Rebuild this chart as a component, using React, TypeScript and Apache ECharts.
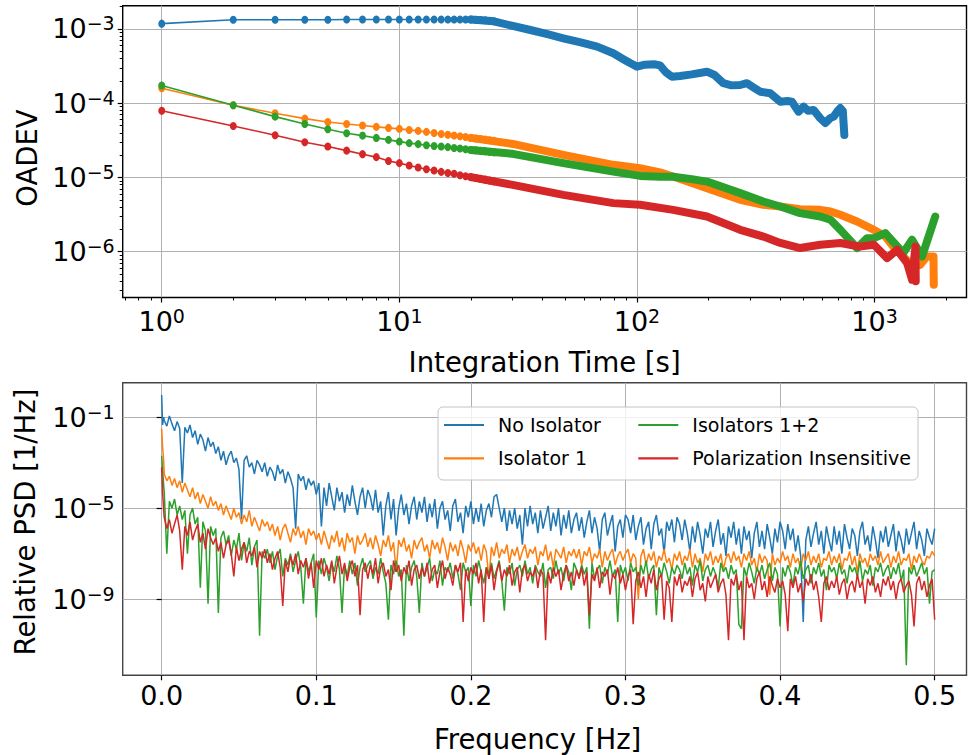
import React, { useEffect, useRef } from 'react';
import * as echarts from 'echarts';

const FONT = 'DejaVu Sans';
const COLORS = ['#1f77b4', '#ff7f0e', '#2ca02c', '#d62728'];
const NAMES = ['No Isolator', 'Isolator 1', 'Isolators 1+2', 'Polarization Insensitive'];

// ---------- Top panel: overlapping Allan deviation ----------
const TAU_SPARSE = [1, 2, 3, 4, 5, 6, 7, 8, 9, 10, 11, 12, 13, 14, 15, 16, 17, 18, 19, 20, 21, 22, 23, 24, 25];
const BLUE_SPARSE = [1.18e-3, 1.33e-3, 1.33e-3, 1.33e-3, 1.33e-3, 1.34e-3, 1.34e-3, 1.34e-3, 1.34e-3, 1.34e-3, 1.34e-3, 1.34e-3, 1.34e-3, 1.34e-3, 1.34e-3, 1.34e-3, 1.34e-3, 1.34e-3, 1.34e-3, 1.34e-3, 1.33e-3, 1.32e-3, 1.31e-3, 1.29e-3, 1.27e-3];
const ORANGE_SPARSE = [1.59e-4, 9.4e-5, 7.33e-5, 6.21e-5, 5.6e-5, 5.26e-5, 5.0e-5, 4.8e-5, 4.65e-5, 4.51e-5, 4.37e-5, 4.24e-5, 4.11e-5, 3.98e-5, 3.86e-5, 3.77e-5, 3.67e-5, 3.59e-5, 3.5e-5, 3.41e-5, 3.35e-5, 3.29e-5, 3.23e-5, 3.17e-5, 3.11e-5];
const GREEN_SPARSE = [1.73e-4, 9.4e-5, 6.6e-5, 5.26e-5, 4.47e-5, 3.94e-5, 3.66e-5, 3.41e-5, 3.21e-5, 3.04e-5, 2.9e-5, 2.81e-5, 2.72e-5, 2.66e-5, 2.61e-5, 2.56e-5, 2.5e-5, 2.45e-5, 2.4e-5, 2.35e-5, 2.32e-5, 2.28e-5, 2.25e-5, 2.21e-5, 2.18e-5];
const RED_SPARSE = [7.94e-5, 4.94e-5, 3.71e-5, 2.98e-5, 2.61e-5, 2.3e-5, 2.06e-5, 1.88e-5, 1.67e-5, 1.56e-5, 1.45e-5, 1.36e-5, 1.29e-5, 1.24e-5, 1.19e-5, 1.15e-5, 1.12e-5, 1.07e-5, 1.04e-5, 1.01e-5, 9.82e-6, 9.58e-6, 9.34e-6, 9.12e-6, 8.89e-6];

const BLUE_DENSE = [
  [20, 1.34e-3], [25, 1.27e-3], [30, 1.1e-3], [35.6, 9.7e-4], [42, 8.5e-4], [49, 7.5e-4], [58, 6.6e-4], [68, 5.78e-4],
  [79.5, 4.71e-4], [88, 3.89e-4], [94, 3.45e-4], [100, 3.11e-4], [108, 3.31e-4], [118, 3.35e-4], [125, 3.24e-4],
  [132, 2.63e-4], [140, 2.28e-4], [152, 2.33e-4], [170, 2.45e-4], [197, 2.66e-4], [212, 2.4e-4], [231, 1.86e-4],
  [250, 1.74e-4], [272, 1.76e-4], [290, 1.86e-4], [310, 1.62e-4], [330, 1.43e-4], [364, 1.36e-4], [401, 1.05e-4],
  [430, 1.07e-4], [449, 1.05e-4], [479, 7.7e-5], [503, 9.0e-5], [525, 7.9e-5], [554, 8.1e-5], [590, 6.3e-5],
  [621, 5.4e-5], [650, 6.3e-5], [673, 6.6e-5], [700, 7.9e-5], [718, 8.6e-5], [735, 7.9e-5], [746, 3.74e-5],
];
const ORANGE_DENSE = [
  [20, 3.41e-5], [30, 2.83e-5], [49, 2.01e-5], [79.5, 1.48e-5], [103, 1.33e-5], [125, 1.17e-5], [142, 1.03e-5],
  [197, 7.18e-6], [272, 5.0e-6], [340, 4.28e-6], [401, 4.06e-6], [486, 3.74e-6], [591, 3.66e-6], [652, 3.48e-6],
  [718, 3.14e-6], [844, 2.55e-6], [994, 1.97e-6], [1110, 1.6e-6], [1200, 1.17e-6], [1320, 8.6e-7], [1410, 7.0e-7],
  [1550, 6.6e-7], [1660, 8.6e-7], [1770, 8.6e-7], [1775, 3.6e-7],
];
const GREEN_DENSE = [
  [20, 2.35e-5], [30, 2.08e-5], [49, 1.56e-5], [79.5, 1.2e-5], [103, 1.05e-5], [125, 1.02e-5], [142, 1.02e-5],
  [170, 9.5e-6], [197, 8.8e-6], [272, 6.15e-6], [340, 4.74e-6], [401, 4.06e-6], [486, 3.31e-6], [591, 2.98e-6],
  [652, 2.69e-6], [718, 1.97e-6], [844, 1.12e-6], [930, 1.52e-6], [994, 1.52e-6], [1110, 1.78e-6], [1320, 9.6e-7],
  [1438, 1.45e-6], [1584, 8.6e-7], [1800, 2.98e-6],
];
const RED_DENSE = [
  [20, 1.01e-5], [30, 7.94e-6], [49, 5.83e-6], [79.5, 4.51e-6], [103, 4.28e-6], [142, 3.66e-6], [197, 2.98e-6],
  [272, 1.97e-6], [340, 1.6e-6], [401, 1.31e-6], [486, 1.12e-6], [591, 1.24e-6], [718, 1.31e-6], [865, 1.17e-6],
  [994, 1.24e-6], [1129, 8.2e-7], [1244, 1.06e-6], [1371, 7.0e-7], [1438, 4.19e-7], [1486, 1.17e-6], [1490, 4.0e-7],
];

const TOP_X_TICKS = [1, 10, 100, 1000];
const TOP_Y_TICKS = [1e-6, 1e-5, 1e-4, 1e-3];

// ---------- Bottom panel: relative PSD (values are log10 of PSD) ----------
const PSD_F_MAX = 0.5;
const PSD_HEAD_FREQ = [0, 0.0006, 0.0013];
const BLUE_PSD_HEAD = [-0.03, -1.35, -1.0];
const BLUE_PSD_BODY = [
  -1.15, -1.4, -0.95, -1.3, -1.6, -1.2, -1.5, -3.9, -1.45, -1.7, -1.35, -1.9, -1.6, -2.2, -1.75, -2.0, -2.5, -1.9, -2.3, -2.1,
  -2.6, -2.3, -2.9, -2.5, -3.1, -2.7, -2.5, -3.0, -2.8, -3.3, -5.5, -2.9, -2.7, -3.2, -3.0, -3.5, -2.9, -3.1, -3.4, -3.0,
  -3.6, -3.2, -3.4, -3.8, -3.1, -3.5, -3.3, -3.9, -3.4, -3.7, -4.1, -5.9, -3.5, -3.8, -3.6, -4.2, -3.7, -4.0, -3.8, -4.4,
  -3.9, -5.8, -4.1, -4.9, -3.9, -4.5, -5.1, -4.1, -4.7, -4.3, -5.2, -4.4, -4.9, -4.0, -4.7, -5.3, -4.5, -4.1, -5.0, -4.2,
  -4.5, -5.1, -4.2, -5.2, -4.7, -6.2, -4.9, -4.3, -5.5, -4.6, -6.2, -5.0, -4.4, -5.3, -4.8, -5.7, -4.9, -4.5, -5.5, -4.7,
  -5.2, -4.5, -5.6, -4.8, -5.4, -4.6, -5.9, -5.0, -4.7, -5.5, -5.1, -6.0, -4.9, -4.6, -5.6, -5.2, -6.1, -4.9, -5.4, -4.7,
  -5.7, -5.0, -5.6, -4.8, -5.8, -5.1, -4.8, -5.4, -4.5, -4.4, -5.0, -5.6, -5.0, -6.0, -5.1, -5.7, -5.0, -5.9, -5.3, -6.6,
  -5.0, -5.8, -4.9, -5.7, -5.2, -6.1, -5.1, -5.9, -5.4, -4.9, -6.0, -5.2, -5.8, -5.0, -6.2, -5.3, -5.9, -5.1, -6.1, -5.5,
  -5.2, -6.0, -5.4, -6.3, -5.6, -5.1, -6.1, -5.4, -5.9, -6.9, -5.5, -5.2, -6.2, -5.7, -5.3, -6.9, -5.8, -5.5, -6.3, -5.3,
  -5.5, -6.1, -5.3, -6.4, -5.8, -5.4, -6.6, -5.9, -5.6, -6.8, -5.7, -5.3, -6.2, -5.9, -7.0, -5.6, -6.0, -5.5, -6.5, -5.4,
  -5.7, -6.4, -5.5, -6.1, -6.9, -5.8, -6.5, -5.6, -6.2, -7.0, -5.9, -6.3, -5.6, -6.7, -6.0, -5.5, -6.6, -6.1, -7.1, -5.8,
  -6.3, -5.6, -6.6, -5.9, -7.0, -5.8, -6.4, -6.0, -7.2, -6.1, -5.6, -6.7, -6.0, -6.8, -5.7, -6.3, -7.0, -5.9, -6.5, -5.6,
  -6.0, -6.8, -5.7, -6.4, -5.9, -6.9, -6.2, -7.1, -10.0, -6.4, -5.8, -6.7, -6.1, -5.6, -6.6, -6.0, -7.0, -5.8, -6.4, -6.9,
  -5.8, -6.6, -6.0, -7.0, -5.7, -6.3, -6.8, -5.9, -6.2, -7.1, -6.0, -5.6, -6.6, -6.2, -6.9, -5.8, -6.4, -7.2, -6.0, -6.5,
  -5.8, -6.7, -6.2, -5.7, -6.9, -6.0, -6.4, -7.0, -5.9, -6.6, -6.1, -5.6, -6.8, -6.0, -6.4, -7.1, -5.9, -6.3, -6.6, -5.9,
];
const ORANGE_PSD_HEAD = [-1.5, -2.3, -2.9];
const ORANGE_PSD_BODY = [
  -3.5, -3.8, -3.6, -4.0, -3.7, -4.1, -3.8, -4.3, -3.9, -4.2, -4.5, -4.1, -4.6, -4.3, -4.8, -4.4, -4.7, -5.0, -4.5, -4.9,
  -4.7, -5.1, -4.8, -5.3, -4.9, -5.2, -5.5, -5.0, -5.4, -5.2, -5.7, -5.3, -5.6, -5.1, -5.8, -5.4, -5.7, -6.0, -5.5, -5.8,
  -5.6, -6.0, -5.7, -6.2, -5.8, -6.4, -5.9, -5.7, -6.1, -6.5, -5.9, -6.2, -5.8, -6.3, -6.0, -6.6, -5.9, -6.2, -6.0, -6.4,
  -6.1, -6.6, -6.0, -6.4, -6.8, -6.2, -6.5, -6.0, -6.7, -6.3, -6.9, -6.1, -6.5, -6.3, -7.0, -6.2, -6.6, -6.4, -6.1, -6.7,
  -6.3, -6.8, -6.2, -6.6, -7.1, -6.4, -6.7, -6.2, -6.9, -6.5, -7.8, -6.4, -6.7, -6.3, -6.9, -6.6, -7.2, -6.4, -6.8, -6.5,
  -6.3, -6.9, -6.6, -7.2, -6.4, -6.8, -6.5, -7.0, -6.3, -6.7, -7.3, -6.5, -6.9, -6.6, -7.1, -6.4, -6.8, -7.4, -6.6, -6.9,
  -6.5, -7.0, -6.7, -7.3, -6.6, -6.9, -8.1, -6.7, -7.1, -6.5, -7.2, -6.8, -7.0, -6.6, -7.4, -6.8, -7.1, -6.7, -7.3, -6.9,
  -6.6, -7.2, -6.8, -7.0, -6.7, -7.5, -6.9, -7.1, -6.6, -7.3, -6.9, -7.6, -6.8, -7.0, -7.2, -6.7, -7.4, -6.9, -7.1, -6.8,
  -7.2, -6.8, -7.5, -6.9, -7.1, -6.7, -7.4, -7.0, -7.2, -6.8, -7.6, -6.9, -7.3, -7.0, -6.8, -7.5, -7.1, -6.9, -7.3, -7.0,
  -6.8, -7.4, -7.0, -7.2, -9.0, -7.1, -6.8, -7.5, -7.0, -7.3, -6.9, -7.6, -7.1, -7.3, -6.8, -7.4, -7.2, -7.7, -7.0, -7.3,
  -6.9, -7.5, -7.1, -7.3, -6.8, -7.6, -7.0, -7.4, -7.2, -7.8, -7.0, -7.3, -6.9, -7.5, -7.1, -7.4, -7.0, -7.7, -7.2, -7.0,
  -7.4, -6.9, -7.3, -7.1, -7.6, -7.0, -7.3, -6.9, -7.5, -7.2, -7.8, -7.0, -7.4, -7.1, -7.3, -8.8, -7.0, -7.5, -7.2, -7.4,
  -6.9, -7.3, -7.1, -7.6, -7.0, -7.4, -7.2, -7.7, -7.0, -7.3, -6.9, -7.5, -7.1, -7.4, -7.0, -7.6, -7.2, -7.3, -6.9, -7.5,
  -7.1, -7.4, -7.0, -7.7, -7.2, -7.3, -6.9, -7.5, -7.1, -7.8, -7.0, -7.4, -7.2, -7.6, -7.0, -7.3, -7.1, -7.5, -6.9, -7.4,
  -7.2, -7.0, -7.6, -7.1, -7.4, -6.9, -7.5, -7.2, -7.3, -7.0, -7.7, -7.1, -7.4, -7.0, -7.3, -7.5, -7.1, -7.2, -6.9, -7.1,
];
const GREEN_PSD_HEAD = [-2.7, -3.3, -4.0];
const GREEN_PSD_BODY = [
  -4.3, -7.0, -4.7, -5.0, -4.6, -5.3, -4.9, -5.5, -5.1, -7.0, -5.3, -5.0, -5.7, -5.4, -8.5, -5.6, -6.0, -9.2, -5.8, -6.2,
  -5.9, -9.6, -6.3, -6.0, -6.6, -6.2, -7.1, -6.4, -6.8, -6.1, -7.3, -6.5, -6.9, -6.3, -7.5, -6.7, -6.4, -10.6, -6.9, -7.2,
  -6.8, -7.4, -6.9, -7.7, -7.1, -6.8, -8.0, -7.2, -7.5, -7.0, -7.8, -7.3, -6.9, -7.6, -9.2, -7.2, -7.8, -7.4, -7.0, -9.8,
  -7.3, -7.9, -7.2, -7.6, -8.2, -7.4, -7.8, -7.1, -7.7, -9.6, -7.5, -8.0, -7.3, -7.9, -7.4, -8.4, -7.6, -7.2, -7.8, -7.5,
  -7.3, -8.1, -7.6, -7.9, -7.2, -7.8, -8.3, -9.9, -7.5, -7.9, -7.3, -8.0, -7.7, -10.6, -7.5, -8.2, -7.6, -7.3, -8.0, -9.6,
  -7.4, -8.0, -7.6, -7.2, -8.2, -7.7, -7.9, -7.3, -8.4, -7.6, -7.8, -7.4, -8.1, -7.5, -7.9, -8.6, -7.4, -7.8, -7.6, -9.3,
  -7.5, -8.0, -7.3, -7.8, -8.3, -7.6, -7.9, -7.4, -8.1, -7.7, -7.3, -8.2, -9.5, -7.6, -7.9, -7.4, -8.4, -7.7, -7.5, -8.0,
  -7.3, -7.9, -7.6, -8.3, -7.5, -7.8, -8.0, -7.4, -8.5, -7.7, -7.6, -8.1, -7.3, -7.9, -7.6, -8.2, -7.5, -7.8, -8.6, -7.4,
  -7.7, -8.0, -7.5, -7.9, -7.6, -10.3, -7.4, -8.1, -7.7, -7.5, -8.3, -7.6, -7.9, -7.3, -8.0, -7.7, -10.0, -7.5, -7.9, -7.6,
  -8.2, -7.4, -7.8, -7.6, -8.4, -7.5, -7.9, -7.3, -8.1, -7.7, -7.5, -9.7, -7.6, -8.0, -7.4, -7.8, -8.3, -7.6, -7.9, -7.5,
  -7.7, -8.1, -7.4, -7.9, -7.6, -8.4, -7.5, -7.8, -7.3, -8.2, -7.7, -7.5, -8.0, -7.6, -7.9, -8.5, -7.4, -7.8, -7.6, -8.1,
  -7.5, -7.9, -7.7, -10.1, -10.3, -7.6, -8.0, -7.4, -7.8, -8.3, -7.6, -7.9, -7.5, -8.1, -7.7, -7.4, -8.2, -7.6, -7.9, -10.2,
  -7.6, -8.0, -7.5, -7.8, -8.4, -7.6, -7.9, -7.3, -8.1, -7.7, -7.5, -8.3, -7.6, -7.9, -7.4, -8.0, -7.7, -8.6, -7.5, -7.8,
  -7.6, -8.1, -7.4, -7.9, -7.7, -8.3, -7.5, -7.8, -7.6, -8.0, -7.3, -8.2, -7.7, -7.9, -7.5, -8.4, -7.6, -7.8, -7.4, -8.0,
  -7.7, -7.5, -8.1, -7.6, -7.9, -7.4, -8.2, -7.7, -11.9, -7.6, -7.9, -7.5, -8.0, -7.7, -7.4, -7.9, -7.6, -9.2, -7.8, -7.7,
];
const RED_PSD_HEAD = [-3.2, -4.3, -5.1];
const RED_PSD_BODY = [
  -5.4, -5.9, -5.5, -6.1, -5.7, -5.3, -6.0, -7.7, -5.8, -6.2, -5.6, -6.4, -6.0, -5.7, -6.5, -6.1, -6.8, -5.9, -6.3, -6.6,
  -6.3, -6.9, -6.5, -7.2, -6.6, -6.4, -7.0, -8.0, -6.7, -7.3, -6.8, -6.5, -7.4, -6.9, -7.1, -6.7, -7.6, -6.9, -7.2, -6.8,
  -7.4, -7.0, -7.7, -7.2, -6.9, -7.6, -9.3, -7.3, -7.8, -7.1, -7.5, -7.0, -7.9, -7.3, -7.6, -7.2, -8.1, -7.4, -8.5, -7.3,
  -7.7, -7.2, -8.0, -7.5, -7.9, -7.3, -8.3, -7.6, -7.1, -7.9, -7.4, -8.2, -7.6, -7.3, -8.0, -7.5, -9.7, -7.7, -7.4, -8.1,
  -7.5, -7.9, -7.2, -8.3, -7.6, -7.4, -8.0, -7.7, -8.6, -7.3, -7.8, -7.5, -8.2, -7.6, -7.9, -7.3, -8.4, -7.7, -7.5, -8.1,
  -7.6, -8.0, -7.4, -8.3, -7.7, -7.5, -8.5, -7.8, -7.3, -8.1, -7.6, -7.9, -8.4, -7.5, -7.8, -7.4, -10.0, -7.7, -8.2, -7.6,
  -7.9, -7.4, -8.3, -7.7, -10.0, -7.6, -8.1, -7.5, -8.6, -7.8, -7.4, -8.2, -7.7, -8.0, -7.5, -8.4, -7.8, -7.6, -8.7, -7.7,
  -7.5, -8.2, -7.8, -8.0, -7.6, -8.5, -7.7, -7.9, -10.8, -7.8, -8.3, -7.6, -8.0, -7.7, -8.6, -7.9, -7.5, -8.2, -7.8, -8.4,
  -7.7, -8.1, -7.6, -8.4, -7.8, -9.7, -7.9, -8.2, -7.6, -8.5, -7.8, -8.0, -7.7, -8.8, -7.9, -8.1, -7.6, -8.3, -7.9, -8.6,
  -8.0, -7.7, -10.1, -8.2, -7.8, -8.5, -8.0, -8.9, -7.9, -8.3, -7.7, -8.6, -8.1, -7.9, -9.9, -8.2, -8.5, -10.0, -8.0, -8.4,
  -7.9, -8.7, -8.2, -8.4, -8.0, -8.9, -8.1, -7.8, -8.6, -8.3, -9.1, -8.0, -8.5, -8.2, -7.9, -8.7, -8.3, -8.1, -8.8, -10.8,
  -8.1, -8.4, -7.9, -8.6, -8.2, -10.8, -8.0, -8.5, -8.3, -9.0, -8.1, -7.8, -8.6, -8.2, -8.9, -8.0, -8.4, -8.7, -8.1, -8.5,
  -8.2, -8.8, -10.4, -8.1, -8.5, -8.0, -8.7, -8.3, -9.1, -8.1, -8.4, -7.9, -8.6, -8.2, -8.9, -10.0, -8.3, -8.0, -8.6, -8.2,
  -8.5, -8.0, -8.8, -8.3, -8.1, -9.0, -8.4, -8.2, -8.7, -7.9, -8.5, -8.2, -9.2, -8.1, -8.4, -8.0, -8.7, -8.3, -8.9, -8.1,
  -8.4, -8.0, -8.6, -8.2, -9.0, -8.3, -8.1, -8.7, -8.4, -8.2, -8.8, -10.2, -8.3, -8.0, -8.6, -8.2, -8.9, -8.4, -8.1, -9.9,
];

const BOTTOM_X_TICKS = [0, 0.1, 0.2, 0.3, 0.4, 0.5];
const BOTTOM_Y_TICKS = [1e-9, 1e-5, 1e-1];

function minorLogTicks(lo: number, hi: number) {
  const out: number[] = [];
  for (let e = lo; e <= hi; e++) for (let m = 2; m <= 9; m++) out.push(m * Math.pow(10, e));
  return out;
}

function buildOption() {
  const supRich = {
    b: { fontSize: 27, lineHeight: 30, fontFamily: FONT, color: '#000', verticalAlign: 'middle' },
    s: { fontSize: 19, lineHeight: 19, fontFamily: FONT, color: '#000', verticalAlign: 'top' },
  };
  const supFormatter = (v: number) => {
    const e = Math.round(Math.log10(v));
    const s = e < 0 ? '\u2212' + -e : String(e);
    return `{b|10}{s|${s}}`;
  };
  const nameStyle = { fontSize: 27.5, fontFamily: FONT, color: '#000' };
  const tickStyle = { color: '#000', width: 1.2 };
  const gridLine = { show: true, lineStyle: { color: '#b0b0b0', width: 1 } };

  const topXMin = 0.685, topXMax = 2437;
  const topYMin = 2.415e-7, topYMax = 2.06e-3;

  const sparse = (vals: number[]) => TAU_SPARSE.map((t, i) => [t, vals[i]]);
  const psd = (head: number[], body: number[]) => [
    ...head.map((v, i) => [PSD_HEAD_FREQ[i], Math.pow(10, v)]),
    ...body.map((v, k) => [((k + 1) * PSD_F_MAX) / body.length, Math.pow(10, v)]),
  ];

  const topSets = [
    [BLUE_DENSE, BLUE_SPARSE],
    [ORANGE_DENSE, ORANGE_SPARSE],
    [GREEN_DENSE, GREEN_SPARSE],
    [RED_DENSE, RED_SPARSE],
  ];
  const topSeries: any[] = [];
  topSets.forEach(([dense, sp], i) => {
    topSeries.push({
      type: 'line', name: NAMES[i] + ' OADEV band', xAxisIndex: 0, yAxisIndex: 0,
      data: dense, showSymbol: false, symbol: 'none',
      lineStyle: { color: COLORS[i], width: 8, cap: 'round', join: 'round' },
      itemStyle: { color: COLORS[i] }, z: 2 + i * 0.1,
    });
    topSeries.push({
      type: 'line', name: NAMES[i] + ' OADEV', xAxisIndex: 0, yAxisIndex: 0,
      data: sparse(sp as number[]), symbol: 'circle', symbolSize: [7, 8], showSymbol: true, showAllSymbol: true,
      lineStyle: { color: COLORS[i], width: 1.6 }, itemStyle: { color: COLORS[i] }, z: 2 + i * 0.1 + 0.05,
    });
  });

  const psdSets = [
    [BLUE_PSD_HEAD, BLUE_PSD_BODY],
    [ORANGE_PSD_HEAD, ORANGE_PSD_BODY],
    [GREEN_PSD_HEAD, GREEN_PSD_BODY],
    [RED_PSD_HEAD, RED_PSD_BODY],
  ];
  const bottomSeries = psdSets.map(([h, b], i) => ({
    type: 'line', name: NAMES[i], xAxisIndex: 2, yAxisIndex: 2,
    data: psd(h, b), showSymbol: false, symbol: 'none',
    lineStyle: { color: COLORS[i], width: 1.5 }, itemStyle: { color: COLORS[i] }, z: 2,
  }));

  const legendCommon = {
    orient: 'vertical', icon: 'rect', itemWidth: 40, itemHeight: 2.2, itemGap: 9.3, padding: 0,
    selectedMode: false, z: 6,
    textStyle: { fontSize: 19, fontFamily: FONT, color: '#000', lineHeight: 24, padding: [0, 0, 0, 9] },
  };

  return {
    animation: false,
    backgroundColor: '#fff',
    textStyle: { fontFamily: FONT },
    grid: [
      { left: 122.7, top: 5.7, right: 1.5, height: 291.8, show: true, borderColor: '#000', borderWidth: 1.4, backgroundColor: 'transparent' },
      { left: 122.7, top: 382.7, right: 1.5, height: 292.6, show: true, borderColor: '#444', borderWidth: 1.4, backgroundColor: 'transparent' },
    ],
    xAxis: [
      {
        type: 'log', gridIndex: 0, min: topXMin, max: topXMax, position: 'bottom',
        axisLine: { show: false },
        axisTick: { show: true, customValues: TOP_X_TICKS, length: 5, lineStyle: tickStyle },
        axisLabel: { customValues: TOP_X_TICKS, formatter: supFormatter, rich: supRich, margin: 9 },
        splitLine: gridLine,
        name: 'Integration Time [s]', nameLocation: 'middle', nameGap: 50, nameTextStyle: nameStyle,
      },
      {
        type: 'log', gridIndex: 0, min: topXMin, max: topXMax, position: 'bottom',
        axisLine: { show: false }, axisLabel: { show: false }, splitLine: { show: false },
        axisTick: { show: true, customValues: minorLogTicks(-1, 3), length: 3, lineStyle: { color: '#000', width: 1 } },
      },
      {
        type: 'value', gridIndex: 1, min: -0.0252, max: 0.5206, position: 'bottom',
        axisLine: { show: false },
        axisTick: { show: true, customValues: BOTTOM_X_TICKS, length: 5, lineStyle: tickStyle },
        axisLabel: {
          customValues: BOTTOM_X_TICKS, formatter: (v: number) => v.toFixed(1), margin: 7,
          fontSize: 27, fontFamily: FONT, color: '#000',
        },
        splitLine: gridLine,
        name: 'Frequency [Hz]', nameLocation: 'middle', nameGap: 50,
        nameTextStyle: { ...nameStyle, padding: [0, 14, 0, 0] },
      },
    ],
    yAxis: [
      {
        type: 'log', gridIndex: 0, min: topYMin, max: topYMax, position: 'left',
        axisLine: { show: false },
        axisTick: { show: true, customValues: TOP_Y_TICKS, length: 5, lineStyle: tickStyle },
        axisLabel: { customValues: TOP_Y_TICKS, formatter: supFormatter, rich: supRich, margin: 8 },
        splitLine: gridLine,
        name: 'OADEV', nameLocation: 'middle', nameGap: 80,
        nameTextStyle: { ...nameStyle, padding: [0, 13, 0, 0] },
      },
      {
        type: 'log', gridIndex: 0, min: topYMin, max: topYMax, position: 'left',
        axisLine: { show: false }, axisLabel: { show: false }, splitLine: { show: false },
        axisTick: { show: true, customValues: minorLogTicks(-7, -3), length: 3, lineStyle: { color: '#000', width: 1 } },
      },
      {
        type: 'log', gridIndex: 1, min: 4.57e-13, max: 3.22, position: 'left',
        axisLine: { show: false },
        axisTick: { show: true, customValues: BOTTOM_Y_TICKS, length: 5, lineStyle: tickStyle },
        axisLabel: { customValues: BOTTOM_Y_TICKS, formatter: supFormatter, rich: supRich, margin: 8 },
        splitLine: gridLine,
        name: 'Relative PSD [1/Hz]', nameLocation: 'middle', nameGap: 84,
        nameTextStyle: { ...nameStyle, padding: [0, 0, 0, 14] },
      },
    ],
    legend: [
      { ...legendCommon, left: 444, top: 413, data: [NAMES[0], NAMES[1]] },
      { ...legendCommon, left: 638.3, top: 413, data: [NAMES[2], NAMES[3]] },
    ],
    graphic: [
      {
        type: 'rect', left: 437.5, top: 406.5, z: 5,
        shape: { width: 480, height: 73, r: 5 },
        style: { fill: 'rgba(255,255,255,0.8)', stroke: '#c4c4c4', lineWidth: 1 },
      },
    ],
    series: [...topSeries, ...bottomSeries],
  };
}

export default function App() {
  const ref = useRef<HTMLDivElement>(null);
  useEffect(() => {
    if (!ref.current) return;
    const chart = echarts.init(ref.current, undefined, { renderer: 'svg' });
    chart.setOption(buildOption() as any);
    return () => chart.dispose();
  }, []);
  return (
    <div
      ref={ref}
      style={{ position: 'absolute', left: 0, top: 0, width: 968, height: 755, background: '#fff' }}
    />
  );
}
